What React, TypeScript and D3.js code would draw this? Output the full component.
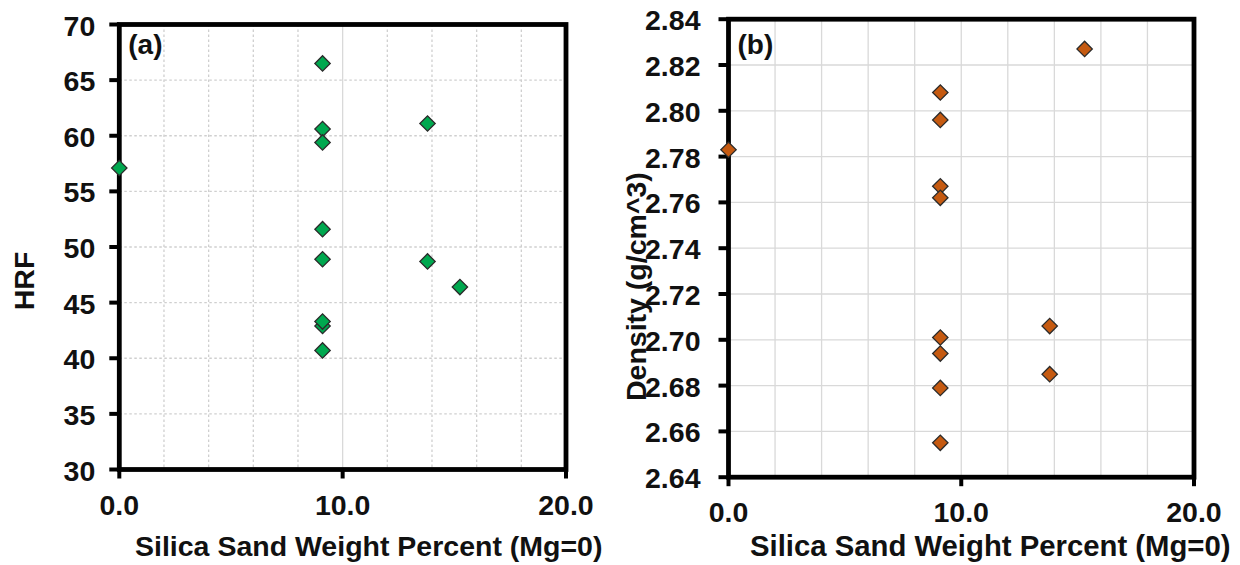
import * as d3 from "d3";

// panel (a): hardness
const hrfX = [0, 9.1, 9.1, 9.1, 9.1, 9.1, 9.1, 9.1, 9.1, 13.8, 13.8, 15.25];
const hrfY = [57.1, 66.5, 60.6, 59.4, 51.6, 48.9, 42.9, 43.3, 40.7, 61.1, 48.7, 46.4];
const hrfTicks = [30, 35, 40, 45, 50, 55, 60, 65, 70];

// panel (b): density
const densX = [0, 9.1, 9.1, 9.1, 9.1, 9.1, 9.1, 9.1, 9.1, 13.8, 13.8, 15.3];
const densY = [2.783, 2.808, 2.796, 2.767, 2.762, 2.701, 2.694, 2.679, 2.655, 2.706, 2.685, 2.827];
const densTicks = [2.64, 2.66, 2.68, 2.7, 2.72, 2.74, 2.76, 2.78, 2.8, 2.82, 2.84];

const xTicks = [0, 10, 20];
const xMinor = [2, 4, 6, 8, 12, 14, 16, 18];

const FONT = "'Liberation Sans', Arial, Helvetica, sans-serif";
const diamond = d3.symbol(d3.symbolSquare).size(118)();

type PanelProps = {
  xs: number[];
  ys: number[];
  yTicks: number[];
  yDomain: [number, number];
  yFmt: (v: number) => string;
  box: { left: number; right: number; top: number; bottom: number };
  fill: string;
  dotted: boolean;
  tag: string;
  yLabel: string;
  yLabelPos: { x: number; y: number; anchor: string };
  yLabelDx: number;
  xLabelX: number;
  xLabelSize: number;
};

const Panel = ({ xs, ys, yTicks, yDomain, yFmt, box, fill, dotted, tag, yLabel, yLabelPos, yLabelDx, xLabelX, xLabelSize }: PanelProps) => {
  const x = d3.scaleLinear().domain([0, 20]).range([box.left, box.right]);
  const y = d3.scaleLinear().domain(yDomain).range([box.bottom, box.top]);
  const gridColor = dotted ? "#cfcfcf" : "#d9d9d9";
  const dash = dotted ? "2.5,2.5" : undefined;

  return (
    <g fontFamily={FONT} fontWeight="bold" fill="#111">
      {/* gridlines */}
      {yTicks.slice(1, -1).map((t) => (
        <line key={"h" + t} x1={box.left} x2={box.right} y1={y(t)} y2={y(t)} stroke={gridColor} strokeWidth={1.3} strokeDasharray={dash} />
      ))}
      {xMinor.map((t) => (
        <line key={"v" + t} x1={x(t)} x2={x(t)} y1={box.top} y2={box.bottom} stroke={gridColor} strokeWidth={1.3} strokeDasharray={dash} />
      ))}
      <line x1={x(10)} x2={x(10)} y1={box.top} y2={box.bottom} stroke="#d9d9d9" strokeWidth={1.3} />

      {/* frame */}
      <rect x={box.left} y={box.top} width={box.right - box.left} height={box.bottom - box.top} fill="none" stroke="#000" strokeWidth={4.8} />

      {/* y ticks */}
      {yTicks.map((t) => (
        <g key={"yt" + t}>
          <line x1={box.left - 10} x2={box.left} y1={y(t)} y2={y(t)} stroke="#000" strokeWidth={4} />
          <text x={box.left - yLabelDx} y={y(t) + 11} textAnchor="end" fontSize={28.5}>
            {yFmt(t)}
          </text>
        </g>
      ))}

      {/* x ticks */}
      {xTicks.map((t) => (
        <g key={"xt" + t}>
          <line x1={x(t)} x2={x(t)} y1={box.bottom} y2={box.bottom + 9} stroke="#000" strokeWidth={4} />
          <text x={x(t)} y={box.bottom + 45} textAnchor="middle" fontSize={28.5}>
            {t.toFixed(1)}
          </text>
        </g>
      ))}

      <text x={xLabelX} y={556} fontSize={xLabelSize}>
        Silica Sand Weight Percent (Mg=0)
      </text>
      <text
        transform={`translate(${yLabelPos.x},${yLabelPos.y}) rotate(-90)`}
        textAnchor={yLabelPos.anchor}
        fontSize={28.5}
      >
        {yLabel}
      </text>
      <text x={box.left + 9} y={54} fontSize={28}>
        {tag}
      </text>

      {/* points */}
      {xs.map((v, i) => (
        <path
          key={"p" + i}
          d={diamond ?? ""}
          transform={`translate(${x(v)},${y(ys[i])}) rotate(45)`}
          fill={fill}
          stroke="#2b2b2b"
          strokeWidth={1.3}
        />
      ))}
    </g>
  );
};

export default function App() {
  return (
    <svg
      width={1240}
      height={565}
      style={{ position: "absolute", left: 0, top: 0, background: "#fff" }}
    >
      <rect width={1240} height={565} fill="#fff" />
      <Panel
        xs={hrfX}
        ys={hrfY}
        yTicks={hrfTicks}
        yDomain={[30, 70]}
        yFmt={(v) => String(v)}
        box={{ left: 119.3, right: 566, top: 24.5, bottom: 469.5 }}
        fill="#00a84f"
        dotted={true}
        tag="(a)"
        yLabel="HRF"
        yLabelPos={{ x: 34, y: 281, anchor: "middle" }}
        yLabelDx={24}
        xLabelX={135}
        xLabelSize={28.5}
      />
      <Panel
        xs={densX}
        ys={densY}
        yTicks={densTicks}
        yDomain={[2.64, 2.84]}
        yFmt={(v) => v.toFixed(2)}
        box={{ left: 728.5, right: 1194, top: 19.2, bottom: 477.2 }}
        fill="#c55a11"
        dotted={false}
        tag="(b)"
        yLabel="Density (g/cm^3)"
        yLabelPos={{ x: 646, y: 401, anchor: "start" }}
        yLabelDx={28}
        xLabelX={750}
        xLabelSize={29.3}
      />
    </svg>
  );
}
